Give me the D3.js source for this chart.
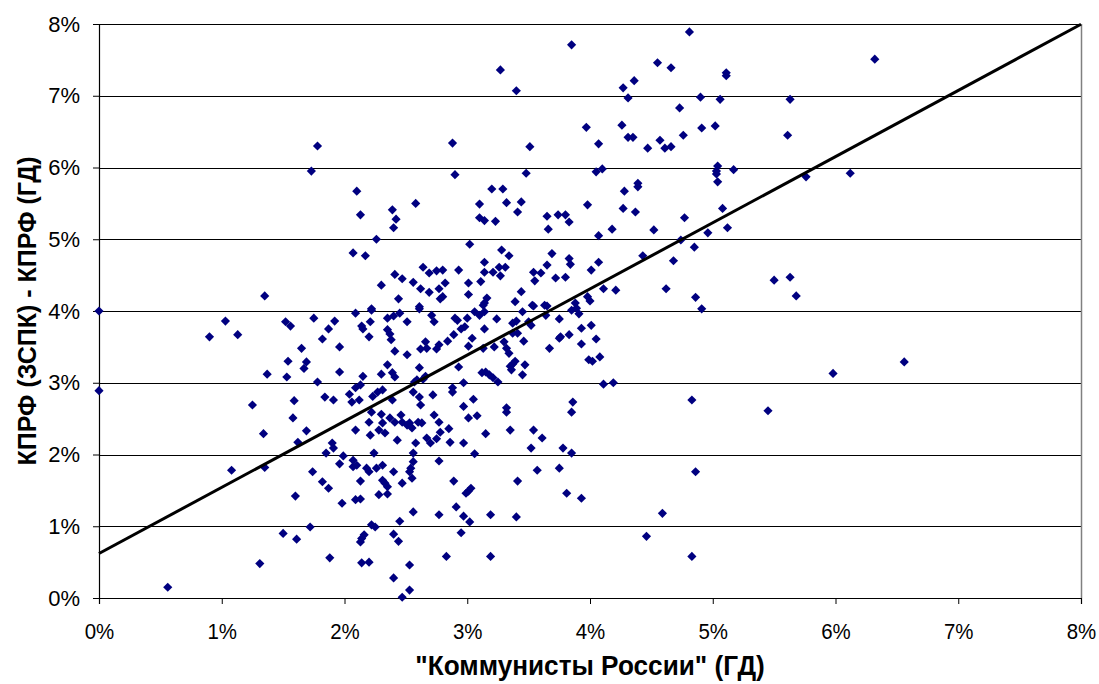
<!DOCTYPE html>
<html>
<head>
<meta charset="utf-8">
<script src="https://cdn.jsdelivr.net/npm/d3@7"></script>
<style>
  body { margin: 0; background: #fff; }
  svg { display: block; }
</style>
</head>
<body>
<div id="chart"></div>
<script>
// x: "Коммунисты России" (ГД), %; y: КПРФ (ЗСПК) - КПРФ (ГД), %
var xVals = [
  1.78, 1.73, 1.35, 0.00,
  3.85, 3.27, 3.40, 3.97, 2.88, 3.51, 2.90, 3.48, 2.10, 2.13, 3.20, 3.29, 3.32, 3.44, 3.41, 3.10,
  3.10, 3.14, 3.23, 2.39, 2.42, 2.40, 2.58, 2.26, 3.65, 3.66, 3.74, 3.80, 3.83, 3.98, 2.07, 2.17,
  3.02, 3.28, 3.34, 3.14, 3.69, 3.83, 3.84, 3.65, 2.64, 2.41, 2.47, 2.69, 2.75, 2.80, 2.93, 2.56,
  2.82, 2.62, 2.69, 2.77, 2.78, 2.80, 3.01, 3.01, 3.11, 3.14, 3.21, 3.26, 3.27, 3.31, 3.16, 3.14,
  3.44, 3.39, 3.54, 3.55, 3.60, 3.72, 3.80, 2.30, 2.44, 2.61, 2.22, 3.54, 3.65, 3.88, 3.98,
  4.81, 4.55, 4.66, 5.11, 5.11, 4.27, 4.36, 4.31, 4.90, 5.06, 5.63, 4.73, 4.26, 4.31, 4.35, 4.07,
  4.47, 4.57, 4.61, 4.66, 4.76, 4.91, 5.02, 5.61, 4.05, 4.10, 4.39, 4.39, 4.28, 5.03, 5.04, 5.03,
  5.04, 5.17, 5.76, 4.27, 4.37, 4.77, 5.08, 4.07, 4.18, 4.52, 5.12, 4.74, 4.96, 4.85, 4.43, 4.68,
  4.07, 4.01, 4.11, 4.21, 4.62, 4.00, 4.86, 4.91, 5.50, 5.63, 5.68,
  6.32, 6.12,
  4.01, 4.05, 4.02, 4.08, 4.11, 4.19, 4.83, 5.45, 5.98, 6.56, 4.86, 4.59, 4.46, 4.83,
  0.00, 0.90, 1.03, 1.13, 0.56, 1.08, 1.25, 1.34, 1.37, 1.35, 1.31, 1.50, 1.61, 1.72, 1.88, 1.52,
  1.56, 1.75, 1.92, 1.87, 1.82, 1.65, 1.96, 1.54, 1.69, 1.67, 1.53, 1.78, 1.96, 1.59, 1.84, 1.91,
  1.58, 1.69, 1.62, 1.90, 1.91, 1.85, 1.99, 1.96, 1.74, 1.82, 1.87, 1.60, 1.98,
  2.09, 2.22, 2.61, 2.35, 2.40, 2.45, 2.51, 2.14, 2.15, 2.21, 2.20, 2.35, 2.37, 2.38, 2.41, 2.51,
  2.71, 2.73, 2.90, 2.92, 3.00, 2.98, 2.95, 2.89, 2.84, 3.04, 3.01, 3.06, 3.10, 3.14, 3.13, 3.24,
  3.14, 2.66, 2.67, 2.62, 2.77, 2.75, 3.13, 3.22, 3.30, 3.32, 3.34, 3.37, 3.40, 3.45, 3.37, 3.41,
  3.46, 3.53, 3.64, 3.63, 3.50, 3.52, 3.75, 3.75, 3.76, 3.67, 3.83, 3.85, 3.91, 3.89, 3.93, 3.93,
  3.99, 2.35, 2.39, 2.41, 2.30, 2.15, 2.13, 2.09, 2.04, 2.06, 2.12, 2.23, 2.27, 2.31, 2.22, 2.30,
  2.39, 2.61, 2.57, 2.59, 2.64, 2.66, 2.56, 2.61, 2.62, 2.72, 2.93, 2.97, 2.88, 2.88, 3.12, 3.15,
  3.18, 3.21, 3.25, 3.35, 3.37, 3.39, 3.36, 3.45, 3.47, 2.97, 3.05, 3.01, 3.08, 3.32, 3.32, 2.20,
  2.09, 2.21, 2.31, 2.28, 2.33, 2.37, 2.41, 2.46, 2.47, 2.51, 2.53, 2.55, 2.60, 2.63, 2.43, 2.58,
  2.67, 2.70, 2.75, 2.73, 2.77, 2.78, 2.85, 2.86, 2.97, 3.15, 3.06, 3.35, 3.54, 3.61, 3.52, 3.78,
  3.85, 3.86, 3.85, 2.07, 2.07, 2.10, 2.24, 2.18, 2.20, 2.26, 2.31, 2.31, 2.33, 2.35, 2.40, 2.47,
  2.13, 2.28, 2.35, 2.09, 2.13, 2.56, 2.56, 2.54, 2.53, 2.55, 2.77, 2.89, 2.99, 3.01, 3.03, 3.41,
  3.57, 3.75, 3.81, 3.93, 2.91, 2.97, 3.02, 2.77, 3.19, 3.40, 2.95, 2.56, 2.45, 2.22, 2.25, 2.16,
  2.14, 2.13, 2.40, 2.44, 2.14, 2.20, 2.53, 2.40, 2.53, 2.47, 2.83, 3.19
];
var yVals = [
  6.30, 5.95, 4.21, 4.00,
  7.71, 7.36, 7.07, 6.56, 6.34, 6.29, 5.90, 5.92, 5.67, 5.34, 5.70, 5.70, 5.51, 5.52, 5.38, 5.49,
  5.30, 5.26, 5.25, 5.41, 5.28, 5.16, 5.50, 5.00, 5.32, 5.14, 5.34, 5.34, 5.24, 5.48, 4.81, 4.77,
  4.93, 4.85, 4.77, 4.68, 4.80, 4.73, 4.65, 4.64, 4.61, 4.51, 4.45, 4.53, 4.56, 4.57, 4.57, 4.40,
  4.39, 4.31, 4.26, 4.31, 4.17, 4.20, 4.39, 4.23, 4.41, 4.54, 4.54, 4.61, 4.49, 4.61, 4.18, 4.11,
  4.27, 4.13, 4.54, 4.42, 4.53, 4.46, 4.47, 4.36, 4.17, 4.06, 4.03, 4.07, 4.07, 4.11, 4.20,
  7.89, 7.46, 7.39, 7.32, 7.28, 7.11, 7.21, 6.97, 6.98, 6.95, 6.95, 6.83, 6.59, 6.42, 6.42, 6.33,
  6.27, 6.38, 6.27, 6.29, 6.45, 6.55, 6.58, 6.45, 5.94, 5.98, 5.78, 5.73, 5.67, 5.95, 6.02, 5.91,
  5.80, 5.97, 5.87, 5.43, 5.38, 5.30, 5.43, 5.05, 5.14, 5.13, 5.16, 4.99, 5.09, 4.89, 4.77, 4.70,
  4.68, 4.57, 4.31, 4.29, 4.31, 4.14, 4.19, 4.03, 4.43, 4.47, 4.21,
  7.51, 5.92,
  3.80, 3.61, 3.30, 3.36, 2.98, 3.00, 2.76, 2.61, 3.13, 3.29, 1.76, 1.18, 0.86, 0.58,
  2.89, 3.64, 3.86, 3.67, 0.15, 1.78, 2.69, 2.29, 3.12, 1.82, 0.48, 0.90, 0.82, 0.99, 0.56, 3.85,
  3.79, 3.90, 3.86, 3.75, 3.61, 3.48, 3.50, 3.30, 3.29, 3.20, 3.08, 3.01, 3.15, 2.75, 2.80, 2.76,
  2.51, 2.33, 2.17, 2.16, 2.09, 2.02, 1.98, 1.87, 1.76, 1.62, 1.53, 1.42, 1.32,
  3.97, 4.01, 4.03, 3.90, 3.93, 3.97, 3.85, 3.79, 3.75, 3.85, 3.64, 3.74, 3.68, 3.60, 3.44, 3.39,
  3.94, 3.85, 3.90, 3.87, 3.90, 3.78, 3.75, 3.67, 3.58, 3.62, 3.51, 3.99, 3.94, 3.99, 4.08, 3.89,
  3.75, 3.57, 3.48, 3.47, 3.53, 3.47, 3.48, 3.50, 3.57, 3.48, 3.41, 3.83, 3.86, 3.99, 3.69, 3.69,
  3.58, 4.08, 3.94, 4.08, 3.85, 3.80, 3.89, 3.62, 3.64, 3.48, 3.67, 4.01, 3.96, 4.04, 3.76, 3.54,
  3.32, 3.25, 3.14, 3.08, 3.12, 3.09, 2.97, 2.93, 2.84, 2.73, 2.76, 2.81, 2.87, 2.90, 2.59, 2.56,
  2.76, 3.21, 3.01, 3.04, 3.05, 3.09, 2.87, 2.80, 2.69, 2.83, 3.22, 3.00, 2.93, 2.87, 3.14, 3.15,
  3.11, 3.07, 3.01, 3.23, 3.26, 3.30, 3.18, 3.11, 3.25, 2.67, 2.77, 2.51, 2.54, 2.65, 2.59, 2.45,
  2.34, 2.27, 2.44, 2.34, 2.30, 2.51, 2.45, 2.55, 2.45, 2.41, 2.44, 2.37, 2.45, 2.44, 2.20, 2.16,
  2.23, 2.16, 2.22, 2.55, 2.45, 2.31, 2.36, 2.17, 2.16, 2.29, 2.01, 2.34, 2.34, 2.23, 2.09, 2.09,
  2.02, 2.73, 2.59, 1.92, 1.83, 1.85, 2.02, 1.81, 1.76, 1.81, 1.85, 1.64, 1.60, 1.55, 1.76, 1.60,
  1.63, 1.44, 1.45, 1.37, 1.38, 2.02, 1.90, 1.81, 1.76, 1.67, 1.91, 1.63, 1.46, 1.49, 1.53, 1.63,
  1.78, 1.81, 1.46, 1.39, 1.27, 1.14, 1.06, 1.16, 1.16, 1.13, 0.91, 1.20, 1.07, 1.02, 0.99, 0.88,
  0.83, 0.78, 0.89, 0.79, 0.49, 0.50, 0.46, 0.28, 0.11, 0.01, 0.58, 0.58
];
var xTicks = [0, 1, 2, 3, 4, 5, 6, 7, 8];
var yTicks = [0, 1, 2, 3, 4, 5, 6, 7, 8];
// linear trendline
var trendIntercept = 0.62;
var trendSlope = 0.922;
var xTitle = '"Коммунисты России" (ГД)';
var yTitle = 'КПРФ (ЗСПК) - КПРФ (ГД)';

var width = 1099, height = 684;
var margin = {top: 24, right: 18, bottom: 86, left: 99};
var pw = width - margin.left - margin.right;
var ph = height - margin.top - margin.bottom;

var svg = d3.select('#chart').append('svg')
    .attr('width', width).attr('height', height)
    .style('font-family', '"Liberation Sans", Arial, sans-serif');

var g = svg.append('g').attr('transform', 'translate(' + margin.left + ',' + margin.top + ')');

var x = d3.scaleLinear().domain([0, 8]).range([0, pw]);
var y = d3.scaleLinear().domain([0, 8]).range([ph, 0]);

// gridlines
g.append('g').selectAll('line')
    .data(yTicks.filter(function (d) { return d > 0; }))
    .enter().append('line')
    .attr('x1', 0).attr('x2', pw)
    .attr('y1', function (d) { return Math.round(y(d)) + 0.5; })
    .attr('y2', function (d) { return Math.round(y(d)) + 0.5; })
    .attr('stroke', '#000').attr('stroke-width', 1);

// right border
g.append('line')
    .attr('x1', pw + 0.5).attr('x2', pw + 0.5).attr('y1', 0).attr('y2', ph)
    .attr('stroke', '#808080').attr('stroke-width', 1.5);

var pct = function (d) { return d + '%'; };

var yAxis = g.append('g')
    .call(d3.axisLeft(y).tickValues(yTicks).tickFormat(pct).tickSize(6).tickPadding(13));
var xAxis = g.append('g').attr('transform', 'translate(0,' + ph + ')')
    .call(d3.axisBottom(x).tickValues(xTicks).tickFormat(pct).tickSize(6).tickPadding(19));

[yAxis, xAxis].forEach(function (a) {
    a.select('.domain').attr('stroke', '#000').attr('stroke-width', 1.2);
    a.selectAll('.tick line').attr('stroke', '#000');
    a.selectAll('.tick text').attr('fill', '#000').style('font-size', '22px');
});
xAxis.selectAll('.tick text').attr('transform', 'scale(0.93,1)');

// points
var pts = xVals.map(function (v, i) { return [v, yVals[i]]; });
var diamond = d3.symbol().type(d3.symbolSquare).size(42);
g.append('g').selectAll('path')
    .data(pts)
    .enter().append('path')
    .attr('d', diamond)
    .attr('transform', function (d) { return 'translate(' + x(d[0]) + ',' + y(d[1]) + ') rotate(45)'; })
    .attr('fill', '#000080');

// trendline
var tl = d3.line().x(function (d) { return x(d); }).y(function (d) { return y(trendIntercept + trendSlope * d); });
g.append('path')
    .datum([0, 8])
    .attr('d', tl)
    .attr('fill', 'none').attr('stroke', '#000').attr('stroke-width', 3);

// axis titles
svg.append('text')
    .attr('transform', 'translate(' + (margin.left + pw / 2) + ',675) scale(0.97,1)')
    .attr('text-anchor', 'middle')
    .style('font-size', '27px').style('font-weight', 'bold')
    .text(xTitle);

svg.append('text')
    .attr('transform', 'translate(36,' + (margin.top + ph / 2) + ') rotate(-90)')
    .attr('text-anchor', 'middle')
    .style('font-size', '25px').style('font-weight', 'bold')
    .text(yTitle);
</script>
</body>
</html>
